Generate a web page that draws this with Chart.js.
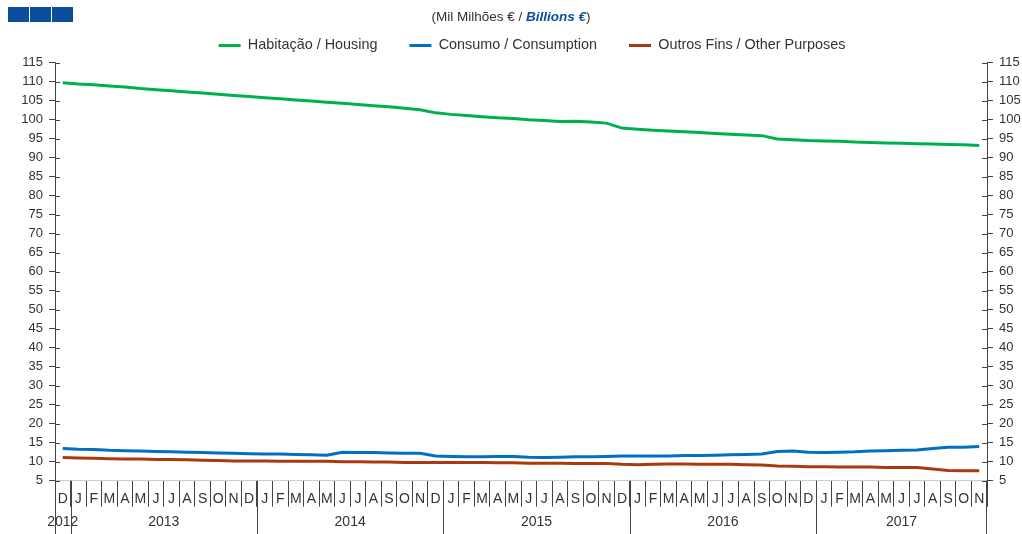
<!DOCTYPE html>
<html lang="pt">
<head>
  <meta charset="UTF-8">
  <title>Habitação, Consumo e Outros Fins</title>
  <script src="https://cdn.jsdelivr.net/npm/chart.js"></script>
  <style>
    body { margin: 0; background: #fff; font-family: "Liberation Sans", Arial, sans-serif; }
    #wrap { position: relative; width: 1022px; height: 534px; }
    #chart { position: absolute; left: 0; top: 0; }
    .logo { position: absolute; top: 7px; left: 8px; display: flex; gap: 1px; }
    .logo span { display: block; width: 21px; height: 15px; background: #0b4f9c; }
    #subtitle { position: absolute; top: 9px; left: 0; width: 1022px; text-align: center; font-size: 13.5px; color: #333; }
    #subtitle b { color: #0b4f9c; font-style: italic; }
  </style>
</head>
<body>
  <div id="wrap">
    <canvas id="chart" width="1022" height="534"></canvas>
    <div class="logo"><span></span><span></span><span></span></div>
    <div id="subtitle">(Mil Milhões € / <b>Billions €</b>)</div>
  </div>
  <script>
    // Dec 2012 .. Nov 2017
    const months = [
      'D',
      'J','F','M','A','M','J','J','A','S','O','N','D',
      'J','F','M','A','M','J','J','A','S','O','N','D',
      'J','F','M','A','M','J','J','A','S','O','N','D',
      'J','F','M','A','M','J','J','A','S','O','N','D',
      'J','F','M','A','M','J','J','A','S','O','N'
    ];
    const years = ['2012', '2013', '2014', '2015', '2016', '2017'];
    const monthsPerYear = [1, 12, 12, 12, 12, 11];

    const housing = [
      109.7,
      109.4, 109.2, 108.9, 108.6, 108.2, 107.9, 107.6, 107.3, 107.0, 106.7, 106.4, 106.1,
      105.8, 105.5, 105.2, 104.9, 104.6, 104.3, 104.0, 103.7, 103.4, 103.0, 102.6, 101.8,
      101.4, 101.1, 100.8, 100.5, 100.3, 100.0, 99.8, 99.5, 99.6, 99.4, 99.1, 97.8,
      97.5, 97.2, 97.0, 96.8, 96.6, 96.4, 96.2, 96.0, 95.8, 94.9, 94.7, 94.5,
      94.4, 94.3, 94.1, 94.0, 93.9, 93.8, 93.7, 93.6, 93.5, 93.4, 93.2
    ];
    const consumption = [
      13.5,
      13.3, 13.2, 13.0, 12.9, 12.8, 12.7, 12.6, 12.5, 12.4, 12.3, 12.2, 12.1,
      12.0, 12.0, 11.9, 11.8, 11.7, 12.5, 12.4, 12.4, 12.3, 12.2, 12.2, 11.5,
      11.4, 11.3, 11.3, 11.4, 11.4, 11.2, 11.1, 11.2, 11.3, 11.3, 11.4, 11.5,
      11.5, 11.5, 11.5, 11.6, 11.6, 11.7, 11.8, 11.9, 12.0, 12.7, 12.8, 12.5,
      12.4, 12.5, 12.6, 12.8, 12.9, 13.0, 13.1, 13.5, 13.8, 13.8, 14.0
    ];
    const otherPurposes = [
      11.1,
      11.0, 10.9, 10.8, 10.7, 10.7, 10.6, 10.6, 10.5, 10.4, 10.3, 10.2, 10.2,
      10.2, 10.1, 10.1, 10.1, 10.1, 10.0, 10.0, 9.9, 9.9, 9.8, 9.8, 9.8,
      9.8, 9.8, 9.8, 9.7, 9.7, 9.6, 9.6, 9.6, 9.5, 9.5, 9.5, 9.3,
      9.2, 9.3, 9.4, 9.4, 9.3, 9.3, 9.3, 9.2, 9.1, 8.9, 8.8, 8.7,
      8.7, 8.6, 8.6, 8.6, 8.5, 8.5, 8.5, 8.1, 7.7, 7.6, 7.6
    ];

    const textColor = '#333';
    const family = '"Liberation Sans", Arial, sans-serif';
    const font = { family: family, size: 13 };

    // legend in the original sits a little right of centre
    const legendShift = {
      id: 'legendShift',
      afterUpdate(chart) {
        const lg = chart.legend;
        if (lg) {
          lg.left += 21;
          lg.right += 21;
        }
      }
    };

    // inner half of the y ticks and the year row under the month labels
    const axisDecor = {
      id: 'axisDecor',
      afterDraw(chart) {
        const { ctx, chartArea, scales } = chart;
        const x = scales.x;
        ctx.save();
        ctx.strokeStyle = '#444';
        ctx.lineWidth = 1;
        scales.y.ticks.forEach((t, i) => {
          const py = Math.round(scales.y.getPixelForTick(i)) + 0.5;
          ctx.beginPath();
          ctx.moveTo(chartArea.left, py); ctx.lineTo(chartArea.left + 5, py);
          ctx.moveTo(chartArea.right - 5, py); ctx.lineTo(chartArea.right, py);
          ctx.stroke();
        });

        const half = (x.getPixelForValue(1) - x.getPixelForValue(0)) / 2;
        const top = chartArea.bottom;
        const bottom = chart.height;
        ctx.fillStyle = textColor;
        ctx.font = '14px ' + family;
        ctx.textAlign = 'center';
        ctx.textBaseline = 'middle';
        let start = 0;
        years.forEach((yr, k) => {
          const n = monthsPerYear[k];
          const left = x.getPixelForValue(start) - half;
          const right = x.getPixelForValue(start + n - 1) + half;
          const lx = Math.round(left) + 0.5;
          ctx.beginPath(); ctx.moveTo(lx, top); ctx.lineTo(lx, bottom); ctx.stroke();
          if (k === years.length - 1) {
            const rx = Math.round(right) - 0.5;
            ctx.beginPath(); ctx.moveTo(rx, top); ctx.lineTo(rx, bottom); ctx.stroke();
          }
          ctx.fillText(yr, (left + right) / 2, 522);
          start += n;
        });
        ctx.restore();
      }
    };

    const yAxis = (position, width) => ({
      position: position,
      min: 5,
      max: 115,
      ticks: { stepSize: 5, padding: 6, color: textColor, font: font },
      grid: { drawOnChartArea: false, tickLength: 6, color: '#444' },
      border: { color: '#444' },
      afterFit: s => { s.width = width; }
    });

    new Chart(document.getElementById('chart'), {
      type: 'line',
      data: {
        labels: months,
        datasets: [
          { label: 'Habitação / Housing', data: housing, borderColor: '#00b050', backgroundColor: '#00b050', borderWidth: 3 },
          { label: 'Consumo / Consumption', data: consumption, borderColor: '#0070c0', backgroundColor: '#0070c0', borderWidth: 3 },
          { label: 'Outros Fins / Other Purposes', data: otherPurposes, borderColor: '#a93a0f', backgroundColor: '#a93a0f', borderWidth: 3 }
        ]
      },
      options: {
        responsive: false,
        animation: false,
        elements: { line: { tension: 0 }, point: { radius: 0 } },
        layout: { padding: { top: 6.3, left: 0, right: 0, bottom: 0 } },
        plugins: {
          legend: {
            labels: {
              usePointStyle: true, pointStyle: 'line', pointStyleWidth: 22,
              padding: 32, color: textColor, font: { family: family, size: 14.4 }
            }
          },
          tooltip: { enabled: false }
        },
        scales: {
          x: {
            type: 'category',
            offset: true,
            grid: { offset: true, drawOnChartArea: false, tickLength: 26, color: '#444' },
            border: { color: '#cccccc' },
            ticks: { autoSkip: false, maxRotation: 0, padding: -16, color: textColor, font: { family: family, size: 14 } },
            afterFit: s => { s.height = 53.3; }
          },
          y: yAxis('left', 55),
          y1: yAxis('right', 35)
        }
      },
      plugins: [legendShift, axisDecor]
    });
  </script>
</body>
</html>
